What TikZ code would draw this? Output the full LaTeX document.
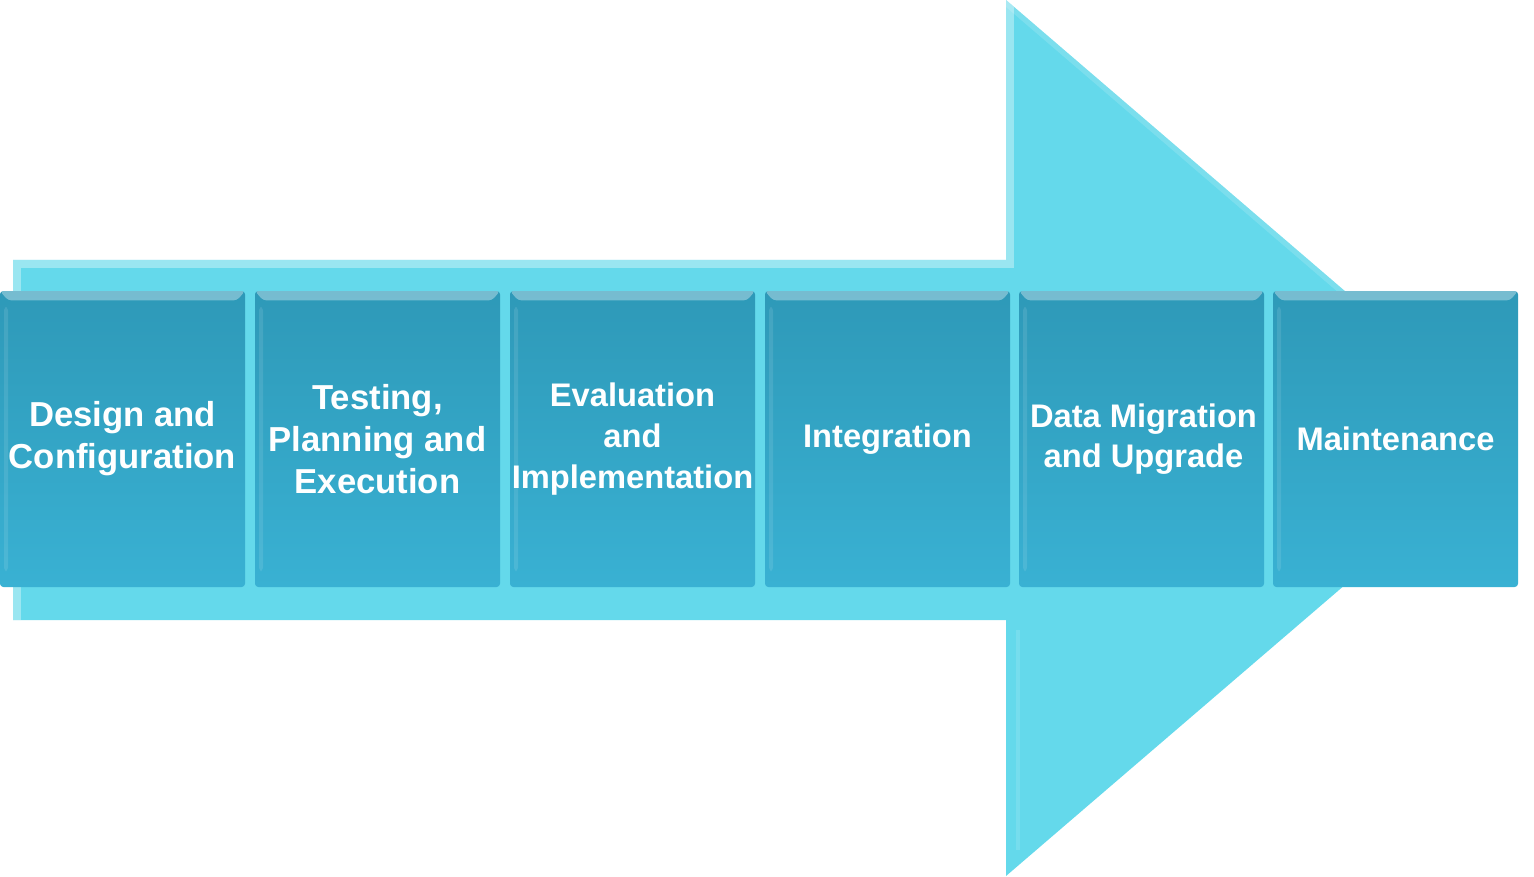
\documentclass[tikz,border=0pt]{standalone}
\usepackage{fontspec}
\setmainfont{Liberation Sans}
\usepackage{tikz}

\definecolor{ArrowCyan}{RGB}{100,217,235}
\definecolor{StageTop}{RGB}{46,153,184}
\definecolor{StageBottom}{RGB}{57,177,211}

\begin{document}
\begin{tikzpicture}[x=0.75pt, y=-0.75pt,
    stage/.style={top color=StageTop, bottom color=StageBottom,
        rounded corners=2.5pt, minimum width=183.75pt, minimum height=222pt,
        inner sep=0pt,
        path picture={
            \fill[white, opacity=0.35]
                (path picture bounding box.north west)
                -- (path picture bounding box.north east)
                -- ([xshift=-6pt, yshift=-7pt]path picture bounding box.north east)
                -- ([xshift=6pt, yshift=-7pt]path picture bounding box.north west)
                -- cycle;
            \fill[white, opacity=0.1]
                ([xshift=3pt, yshift=-12pt]path picture bounding box.north west)
                rectangle ([xshift=6pt, yshift=12pt]path picture bounding box.south west);
        }},
    stagetext/.style={text=white, align=center,
        font=\bfseries\fontsize{26}{31.5}\selectfont},
    smalltext/.style={stagetext, font=\bfseries\fontsize{24.5}{30.5}\selectfont}]

    \useasboundingbox (0,0) rectangle (1534,877);

    % the big arrow behind the stages
    \fill[ArrowCyan] (13,260) -- (1006,260) -- (1006,0) -- (1516,438)
        -- (1006,876) -- (1006,620) -- (13,620) -- cycle;
    \begin{scope}
        \clip (13,260) -- (1006,260) -- (1006,0) -- (1516,438)
            -- (1006,876) -- (1006,620) -- (13,620) -- cycle;
        \draw[white, opacity=0.35, line width=12pt]
            (13,620) -- (13,260) -- (1006,260) -- (1006,0);
        \draw[white, opacity=0.15, line width=8pt]
            (1006,0) -- (1516,438);
        \draw[white, opacity=0.12, line width=3pt]
            (1018,630) -- (1018,850);
    \end{scope}

    % the six stages
    \node[stage] (design) at (122.5,439) {};
    \node[stagetext] (designtext) at (design)
        {Design and\\Configuration};

    \node[stage] (testing) at (377.5,439) {};
    \node[stagetext] (testingtext) at (testing)
        {Testing,\\Planning and\\Execution};

    \node[stage] (evaluation) at (632.5,439) {};
    \node[smalltext] (evaluationtext) at (evaluation)
        {Evaluation\\and\\Implementation};

    \node[stage] (integration) at (887.5,439) {};
    \node[smalltext] (integrationtext) at (integration)
        {Integration};

    \node[stage] (migration) at (1141.5,439) {};
    \node[smalltext] (migrationtext) at ([xshift=1.5pt]migration)
        {Data Migration\\and Upgrade};

    \node[stage] (maintenance) at (1395.5,439) {};
    \node[smalltext] (maintenancetext) at (maintenance)
        {Maintenance};

\end{tikzpicture}
\end{document}
